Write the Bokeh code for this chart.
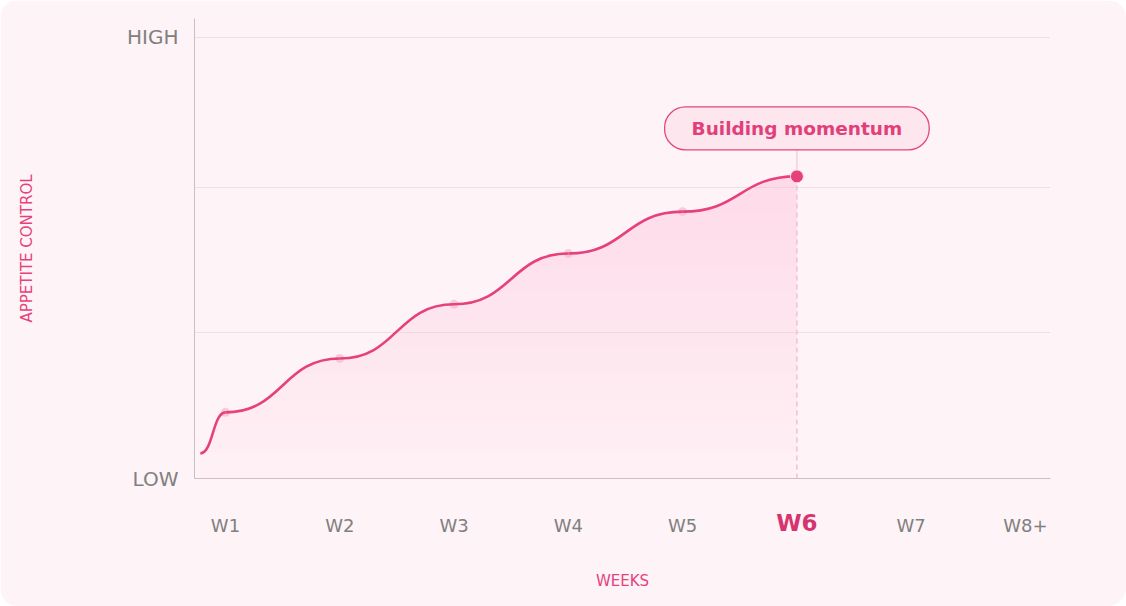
import numpy as np
from bokeh.plotting import figure
from bokeh.models import FixedTicker, Label, Range1d, LinearAxis
from bokeh.embed import file_html
from bokeh.resources import INLINE

# ---- data ----
week_ticks = [1, 2, 3, 4, 5, 6, 7, 8]
week_labels = ["W1", "W2", "W3", "W4", "W5", "W6", "W7", "W8+"]
curve_x = [0.78, 1, 2, 3, 4, 5, 6]          # start of journey, then weekly points
curve_y = [5.7, 15.0, 27.2, 39.5, 51.0, 60.5, 68.5]
current_week = 6
y_levels = [0, 33, 66, 100]
y_level_labels = {0: "LOW", 100: "HIGH"}
callout_text = "Building momentum"

BG = "#fef3f6"
PINK = "#e6417c"
GRAY = "#808080"
FONT = "DejaVu Sans"

p = figure(width=1126, height=606, output_backend="svg", toolbar_location=None,
           x_range=Range1d(0.729, 8.219), y_range=Range1d(0, 104.3),
           min_border_left=194, min_border_right=76, min_border_top=18,
           min_border_bottom=128, background_fill_color=BG, border_fill_color=BG,
           outline_line_color=None,
           styles={"border-radius": "18px", "overflow": "hidden"})

# ---- smooth curve: cubic segments with flat tangents at each weekly point ----
x0 = np.array(curve_x[:-1]); x1 = np.array(curve_x[1:])
y0 = np.array(curve_y[:-1]); y1 = np.array(curve_y[1:])
cx0 = x0 + (x1 - x0) / 2; cx1 = x1 - (x1 - x0) / 2

t = np.linspace(0, 1, 60)[:, None]
bx = ((1 - t) ** 3 * x0 + 3 * (1 - t) ** 2 * t * cx0 + 3 * (1 - t) * t ** 2 * cx1 + t ** 3 * x1).T.ravel()
by = ((1 - t) ** 3 * y0 + 3 * (1 - t) ** 2 * t * y0 + 3 * (1 - t) * t ** 2 * y1 + t ** 3 * y1).T.ravel()

# gradient-like fill (stacked translucent layers)
levels = np.linspace(0, 66, 12)
p.varea(x=bx, y1=np.zeros_like(by), y2=by, fill_color="#fbd3e0", fill_alpha=0.1)
for L in levels[1:]:
    p.varea(x=bx, y1=np.minimum(by, L), y2=by, fill_color="#fbc6d8", fill_alpha=0.026)

# grid
p.xgrid.grid_line_color = None
p.ygrid.ticker = FixedTicker(ticks=y_levels[1:])
p.ygrid.grid_line_color = "#f1dfe6"
p.ygrid.grid_line_width = 1

# vertical marker line at current week
p.segment(x0=[current_week], y0=[0], x1=[current_week], y1=[curve_y[-1]],
          line_color="#f4bfd2", line_width=1.5, line_dash="5 4")
p.segment(x0=[current_week], y0=[curve_y[-1]], x1=[current_week], y1=[74.6],
          line_color="#f6d0dd", line_width=1.5)

# pale weekly dots
p.scatter(x=curve_x[1:-1], y=curve_y[1:-1], size=9, fill_color="#f6b9cd",
          fill_alpha=0.7, line_color=None)

p.bezier(x0=x0, y0=y0, x1=x1, y1=y1, cx0=cx0, cy0=y0, cx1=cx1, cy1=y1,
         line_color=PINK, line_width=2.6)

p.scatter(x=[curve_x[-1]], y=[curve_y[-1]], size=13, fill_color=PINK,
          line_color="#fde3ec", line_width=1)

# callout
p.add_layout(Label(x=current_week, y=curve_y[-1], y_offset=48, text=callout_text,
                   text_align="center", text_baseline="middle",
                   text_font=FONT, text_font_style="bold", text_font_size="18.5px",
                   text_color="#e23f7a", background_fill_color="#fde6ee",
                   border_line_color="#e2457d", border_line_width=1.3,
                   padding=(27, 11), border_radius=21))

# x axis, inner: highlighted current week
xa = p.xaxis[0]
xa.ticker = FixedTicker(ticks=[current_week])
xa.major_label_overrides = {current_week: week_labels[week_ticks.index(current_week)]}
xa.major_label_text_font = FONT
xa.major_label_text_font_size = "23px"
xa.major_label_text_font_style = "bold"
xa.major_label_text_color = "#d63470"
xa.major_label_standoff = 31
xa.major_tick_line_color = None
xa.major_tick_out = 0
xa.major_tick_in = 0
xa.minor_tick_line_color = None
xa.axis_line_color = "#cbbfc4"

# x axis, outer: remaining weeks + title
xb = LinearAxis(ticker=FixedTicker(ticks=[w for w in week_ticks if w != current_week]),
                major_label_overrides={w: l for w, l in zip(week_ticks, week_labels)})
xb.major_label_text_font = FONT
xb.major_label_text_font_size = "18px"
xb.major_label_text_color = GRAY
xb.major_label_standoff = -24
xb.major_tick_line_color = None
xb.major_tick_out = 0
xb.major_tick_in = 0
xb.minor_tick_line_color = None
xb.axis_line_color = None
xb.axis_label = "WEEKS"
xb.axis_label_text_font = FONT
xb.axis_label_text_font_size = "15px"
xb.axis_label_text_font_style = "normal"
xb.axis_label_text_color = PINK
xb.axis_label_standoff = 33
p.add_layout(xb, "below")

# y axis
ya = p.yaxis[0]
ya.ticker = FixedTicker(ticks=list(y_level_labels.keys()))
ya.major_label_overrides = y_level_labels
ya.major_label_text_font = FONT
ya.major_label_text_font_size = "20px"
ya.major_label_text_color = GRAY
ya.major_label_standoff = 16
ya.major_tick_line_color = None
ya.major_tick_out = 0
ya.major_tick_in = 0
ya.minor_tick_line_color = None
ya.axis_line_color = "#cbbfc4"
ya.axis_label = "APPETITE CONTROL"
ya.axis_label_text_font = FONT
ya.axis_label_text_font_size = "15px"
ya.axis_label_text_font_style = "normal"
ya.axis_label_text_color = PINK
ya.axis_label_standoff = 88

open("out.html", "w").write(file_html(p, INLINE))
